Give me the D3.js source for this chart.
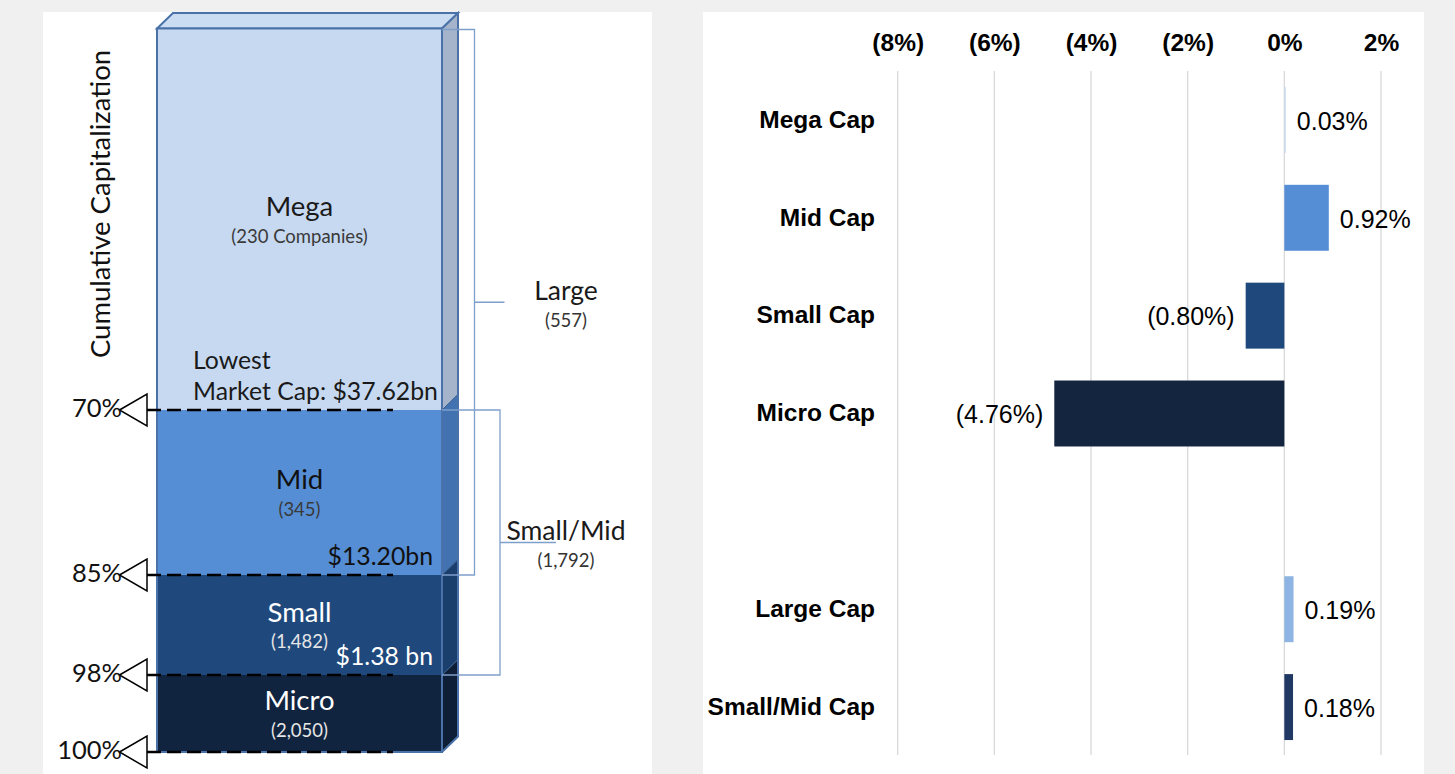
<!DOCTYPE html>
<html lang="en">
<head>
    <meta charset="utf-8">
    <title>Market Cap Tiers</title>
    <script src="https://d3js.org/d3.v7.min.js"></script>
    <style>
        body {
            margin: 0;
            background: #f0f0f0;
        }
        .diagram text {
            font-family: Lato, "Open Sans", sans-serif;
        }
        .bars text {
            font-family: "Liberation Sans", Arial, sans-serif;
        }
    </style>
</head>
<body>
    <svg id="chart" width="1455" height="774"></svg>
    <script>
        // ---- left diagram data ----
        const tiers = ["Mega", "Mid", "Small", "Micro"];
        const tierCounts = ["(230 Companies)", "(345)", "(1,482)", "(2,050)"];
        const cumulativeBreaks = [0, 70, 85, 98, 100];
        const breakLabels = ["70%", "85%", "98%", "100%"];
        const lowestCap = [["Lowest", "Market Cap: $37.62bn"], ["$13.20bn"], ["$1.38 bn"], []];
        const groupNames = ["Large", "Small/Mid"];
        const groupCounts = ["(557)", "(1,792)"];
        const groupFrom = [0, 70];
        const groupTo = [85, 98];

        // ---- right bar chart data ----
        const capCategories = ["Mega Cap", "Mid Cap", "Small Cap", "Micro Cap", "", "Large Cap", "Small/Mid Cap"];
        const capReturns = [0.03, 0.92, -0.80, -4.76, null, 0.19, 0.18];
        const xTicks = [-8, -6, -4, -2, 0, 2];

        // colours kept apart from the data
        const tierFront = { Mega: "#c6d9f1", Mid: "#558ed5", Small: "#1f497d", Micro: "#11243f" };
        const tierSide = { Mega: "#a5b4cb", Mid: "#4272b0", Small: "#1a3f6c", Micro: "#0d1e36" };
        const tierText = { Mega: "#1a1a1a", Mid: "#111", Small: "#fff", Micro: "#fff" };
        const barColor = {
            "Mega Cap": "#c6d9f1", "Mid Cap": "#558ed5", "Small Cap": "#1f497d",
            "Micro Cap": "#13253f", "Large Cap": "#8db4e2", "Small/Mid Cap": "#1f3864"
        };

        const svg = d3.select("#chart");

        // panels
        svg.append("rect").attr("x", 43).attr("y", 12).attr("width", 609).attr("height", 770).attr("fill", "#fff");
        svg.append("rect").attr("x", 703).attr("y", 12).attr("width", 721).attr("height", 770).attr("fill", "#fff");

        // ================= left: stacked tier diagram =================
        const g = svg.append("g").attr("class", "diagram");

        // schematic (not proportional) vertical placement of the cumulative breaks
        const yL = d3.scaleLinear().domain(cumulativeBreaks).range([28.5, 410, 575, 675, 752]);
        const x0 = 157, x1 = 442, dx = 16, dy = 15.5;
        const outline = "#4a72a8";

        const segs = tiers.map((t, i) => ({
            name: t, count: tierCounts[i], cap: lowestCap[i],
            top: yL(cumulativeBreaks[i]), bot: yL(cumulativeBreaks[i + 1])
        }));

        // top face
        g.append("path")
            .attr("d", `M${x0},${yL(0)} L${x0 + dx},${yL(0) - dy} L${x1 + dx},${yL(0) - dy} L${x1},${yL(0)} Z`)
            .attr("fill", "#cadcf2").attr("stroke", outline).attr("stroke-width", 2);

        segs.forEach(s => {
            g.append("rect")
                .attr("x", x0).attr("y", s.top)
                .attr("width", x1 - x0).attr("height", s.bot - s.top)
                .attr("fill", tierFront[s.name]);
            g.append("path")
                .attr("d", `M${x1},${s.top} L${x1 + dx},${s.top - dy} L${x1 + dx},${s.bot - dy} L${x1},${s.bot} Z`)
                .attr("fill", tierSide[s.name])
                .attr("stroke", "#3d6596").attr("stroke-width", 1);
        });

        // box outline
        g.append("path")
            .attr("d", `M${x0},${yL(0)} H${x1} V${yL(100)} H${x0} Z M${x1},${yL(0)} L${x1 + dx},${yL(0) - dy} V${yL(100) - dy} L${x1},${yL(100)}`)
            .attr("fill", "none").attr("stroke", outline).attr("stroke-width", 2);

        // brackets for Large and Small/Mid
        const bracketX = [474.5, 500];
        const tickLen = [30, 56];
        groupNames.forEach((name, i) => {
            const yt = yL(groupFrom[i]) + (i === 0 ? 1 : 0), yb = yL(groupTo[i]);
            const ym = (yt + yb) / 2;
            g.append("path")
                .attr("d", `M${x1},${yt} H${bracketX[i]} V${yb} H${x1} M${bracketX[i]},${ym} H${bracketX[i] + tickLen[i]}`)
                .attr("fill", "none").attr("stroke", "#7f9fcb").attr("stroke-width", 1.3);
            g.append("text")
                .attr("x", 566).attr("y", ym - 12).attr("dy", "0.35em")
                .attr("text-anchor", "middle").attr("font-size", 26.5).attr("fill", "#1a1a1a")
                .text(name);
            g.append("text")
                .attr("x", 566).attr("y", ym + 18).attr("dy", "0.35em")
                .attr("text-anchor", "middle").attr("font-size", 18.5).attr("fill", "#333")
                .text(groupCounts[i]);
        });

        // tier names and counts
        segs.forEach(s => {
            const ym = (s.top + s.bot) / 2;
            const cx = (x0 + x1) / 2;
            g.append("text")
                .attr("x", cx).attr("y", ym - 13).attr("dy", "0.35em")
                .attr("text-anchor", "middle").attr("font-size", 27.5).attr("fill", tierText[s.name])
                .text(s.name);
            g.append("text")
                .attr("x", cx).attr("y", ym + 17).attr("dy", "0.35em")
                .attr("text-anchor", "middle").attr("font-size", 18.5)
                .attr("fill", s.name === "Small" || s.name === "Micro" ? "#e6e6e6" : "#3a3a3a")
                .text(s.count);
            // lowest market cap at the bottom of each tier
            const n = s.cap.length;
            s.cap.forEach((line, k) => {
                g.append("text")
                    .attr("x", n > 1 ? 193 : 433)
                    .attr("y", s.bot - 18.5 - (n - 1 - k) * 31).attr("dy", "0.35em")
                    .attr("text-anchor", n > 1 ? "start" : "end")
                    .attr("font-size", 24.8).attr("fill", tierText[s.name])
                    .text(line);
            });
        });

        // dashed break lines, arrow markers and % labels
        const breaks = cumulativeBreaks.slice(1);
        breaks.forEach((b, i) => {
            const y = yL(b);
            g.append("line")
                .attr("x1", 147).attr("x2", 393).attr("y1", y).attr("y2", y)
                .attr("stroke", "#000").attr("stroke-width", 2.7).attr("stroke-dasharray", "14,6");
            g.append("path")
                .attr("d", `M119.5,${y} L147,${y - 16} L147,${y + 16} Z`)
                .attr("fill", "#fff").attr("stroke", "#000").attr("stroke-width", 1.5);
            g.append("text")
                .attr("x", 122).attr("y", y - 2).attr("dy", "0.35em")
                .attr("text-anchor", "end").attr("font-size", 25.5).attr("fill", "#111")
                .text(breakLabels[i]);
        });

        g.append("text")
            .attr("transform", "translate(100,204) rotate(-90)")
            .attr("dy", "0.35em").attr("text-anchor", "middle")
            .attr("font-size", 27.5).attr("fill", "#111")
            .text("Cumulative Capitalization");

        // ================= right: return bars =================
        const gb = svg.append("g").attr("class", "bars");

        const x = d3.scaleLinear().domain([-8, 2]).range([897.7, 1381]);
        const y = d3.scaleBand().domain(capCategories).range([71, 756])
            .paddingInner(0.326).paddingOuter(0.163);

        const pct = (v, digits) => v < 0 ? `(${Math.abs(v).toFixed(digits)}%)` : `${v.toFixed(digits)}%`;

        // gridlines
        gb.selectAll("line.grid")
            .data(xTicks)
            .join("line")
            .attr("class", "grid")
            .attr("x1", d => x(d)).attr("x2", d => x(d))
            .attr("y1", 71).attr("y2", 755)
            .attr("stroke", "#d9d9d9").attr("stroke-width", 1.3);

        // top axis labels
        const axTop = gb.append("g")
            .attr("transform", "translate(0,51)")
            .call(d3.axisTop(x).tickValues(xTicks).tickFormat(d => pct(d, 0)).tickSize(0).tickPadding(0));
        axTop.select(".domain").remove();
        axTop.selectAll("text")
            .attr("font-size", 24.5).attr("font-weight", "bold").attr("fill", "#000")
            .attr("font-family", "'Liberation Sans', Arial, sans-serif");

        // category labels
        const axLeft = gb.append("g")
            .attr("transform", "translate(875,0)")
            .call(d3.axisLeft(y).tickSize(0).tickPadding(0));
        axLeft.select(".domain").remove();
        axLeft.selectAll("text")
            .attr("font-size", 24.5).attr("font-weight", "bold").attr("fill", "#000")
            .attr("font-family", "'Liberation Sans', Arial, sans-serif");

        const rows = capCategories.map((c, i) => ({ cat: c, v: capReturns[i] })).filter(d => d.v !== null);

        gb.selectAll("rect.bar")
            .data(rows)
            .join("rect")
            .attr("class", "bar")
            .attr("x", d => x(Math.min(0, d.v)))
            .attr("width", d => Math.abs(x(d.v) - x(0)))
            .attr("y", d => y(d.cat))
            .attr("height", y.bandwidth())
            .attr("fill", d => barColor[d.cat]);

        gb.selectAll("text.val")
            .data(rows)
            .join("text")
            .attr("class", "val")
            .attr("x", d => d.v < 0 ? x(d.v) - 11 : x(d.v) + 11)
            .attr("y", d => y(d.cat) + y.bandwidth() / 2 + 1)
            .attr("dy", "0.35em")
            .attr("text-anchor", d => d.v < 0 ? "end" : "start")
            .attr("font-size", 25).attr("fill", "#000")
            .text(d => pct(d.v, 2));
    </script>
</body>
</html>
